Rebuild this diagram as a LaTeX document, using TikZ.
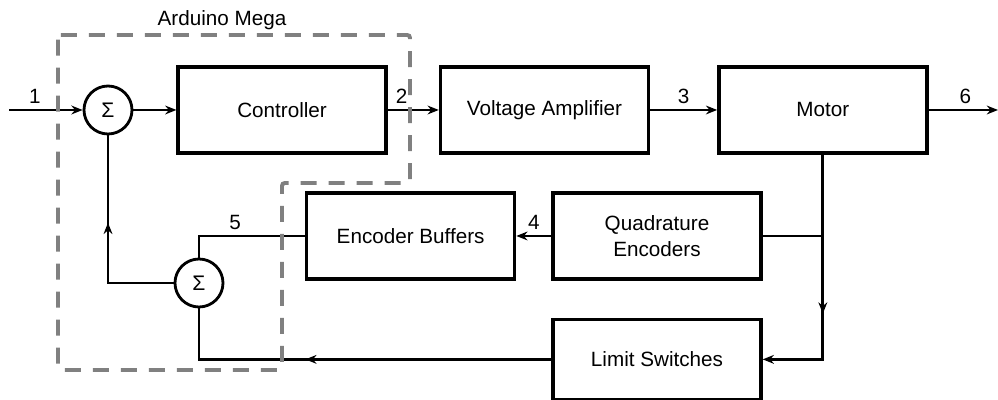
\documentclass[tikz,border=0pt]{standalone}
\usepackage{fontspec}
\setmainfont{Liberation Sans}
\usetikzlibrary{arrows.meta,positioning,calc,decorations.markings}
\definecolor{framegray}{RGB}{128,128,128}

\begin{document}
\begin{tikzpicture}[
    >={Stealth[length=2.8mm,width=2.2mm]},
    block/.style={draw,line width=2.4pt,minimum width=5.2cm,minimum height=2.15cm,
                  font=\fontsize{14.7}{18.4}\selectfont,align=center},
    sum/.style  ={draw,circle,line width=2pt,inner sep=0pt,minimum size=1.2cm,
                  font=\fontsize{15}{17}\selectfont},
    arr/.style  ={->,line width=2pt},
    wire/.style ={line width=2pt},
    lbl/.style  ={font=\fontsize{14.7}{17}\selectfont},
    midarrow/.style={postaction={decorate},
                     decoration={markings,mark=at position #1 with {\arrow{>}}}},
    board/.style={draw=framegray,line width=2.8pt,dash pattern=on 0.4cm off 0.3cm},
  ]
  \useasboundingbox (0,0) rectangle (24.95,10);

  %% Forward path
  \node[sum] (sum1) at (2.7,7.25) {Σ};
  \node[block] (ctrl) [right=1.075cm of sum1] {Controller};
  \node[block] (amp) [right=1.275cm of ctrl] {Voltage Amplifier};
  \node[block] (motor) [right=1.675cm of amp] {Motor};

  %% Feedback blocks
  \node[block] (quad) at (16.425,4.1) {Quadrature\\Encoders};
  \node[block] (buf) [left=0.875cm of quad] {Encoder Buffers};
  \node[block,minimum height=2cm] (limit) [below=0.925cm of quad] {Limit Switches};
  \node[sum] (sum2) at (4.975,2.925) {Σ};

  %% Ends of the signal line
  \coordinate (in) at (0.225,7.25);
  \coordinate (out) at (24.95,7.25);

  %% Signals 1, 2, 3, 6
  \draw[arr] (in) -- node[lbl,above,pos=0.35]{1} (sum1);
  \draw[arr] (sum1) -- (ctrl);
  \draw[arr] (ctrl) -- node[lbl,above,pos=0.27]{2} (amp);
  \draw[arr] (amp) -- node[lbl,above]{3} (motor);
  \draw[arr] (motor) -- node[lbl,above,pos=0.53]{6} (out);

  %% Motor → encoders / limit switches
  \draw[arr,midarrow=0.6] (motor.south) |- (limit.east);
  \draw[wire] (quad.east) -- (quad.east -| motor.south);

  %% Encoders → buffers → sum
  \draw[arr] (quad) -- node[lbl,above]{4} (buf);
  \draw[wire] (buf.west) -| node[lbl,above,pos=0.33]{5} (sum2.north);

  %% Limit switches → sum → first sum
  \draw[wire,midarrow=0.61] (limit.west) -| (sum2.south);
  \draw[wire,midarrow=0.59] (sum2.west) -| (sum1.south);

  %% Arduino board
  \draw[board,rounded corners=2pt] (1.45,9.125) -- (10.25,9.125) -- (10.25,5.425)
    -- (7.05,5.425) -- (7.05,0.75) -- (1.45,0.75) -- cycle;
  \node[lbl] (board) at (5.55,9.5) {Arduino Mega};
\end{tikzpicture}
\end{document}
